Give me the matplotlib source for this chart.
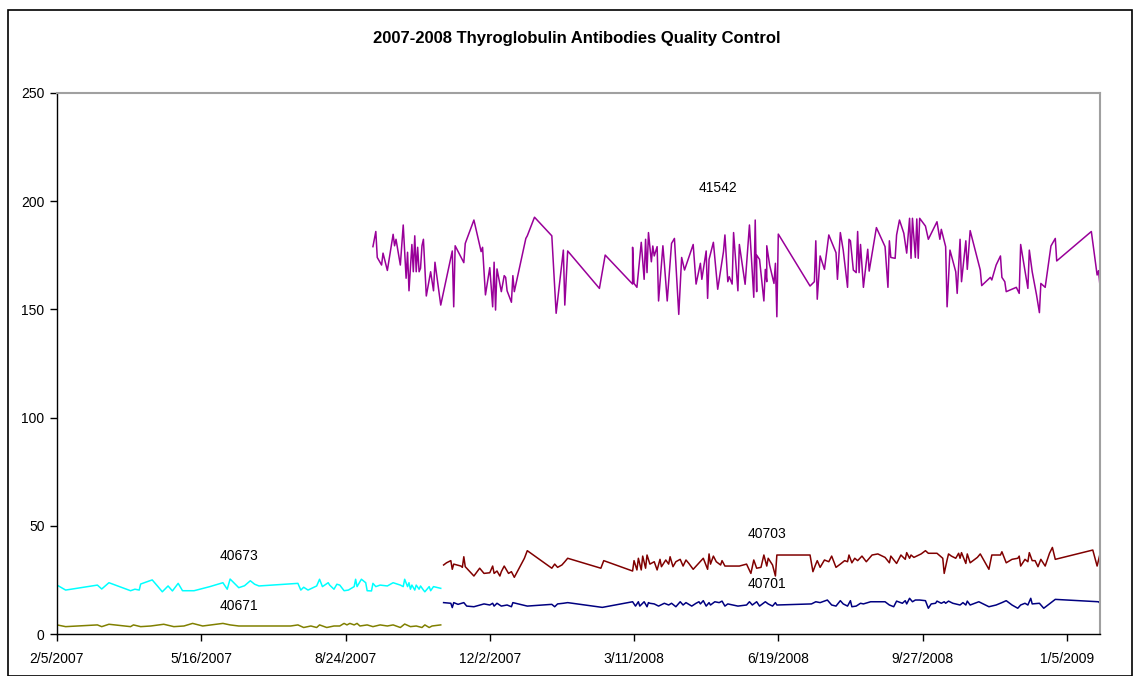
import datetime as dt
import matplotlib
matplotlib.use("Agg")
import matplotlib.pyplot as plt
from matplotlib.patches import Rectangle

plt.rcParams['font.family'] = ['Liberation Sans', 'DejaVu Sans']

START = dt.date(2007, 2, 5)
title = "2007-2008 Thyroglobulin Antibodies Quality Control"

# ---- data: day offsets from 2/5/2007 and values ----
s41542_days = [219, 221, 222, 225, 226, 229, 233, 234, 235, 238, 240, 242, 243, 244, 246, 247, 248, 249, 250, 251,
               252, 253, 254, 256, 259, 261, 262, 266, 269, 274, 275, 276, 282, 283, 289, 294, 295, 297, 300, 302,
               303, 304, 305, 308, 310, 311, 312, 315, 316, 317, 325, 326, 331, 343, 346, 351, 352, 354, 376, 380,
               399, 399, 400, 402, 405, 407, 408, 409, 410, 412, 413, 414, 416, 417, 420, 421, 423, 426, 428, 431,
               433, 435, 441, 443, 446, 447, 450, 451, 452, 455, 458, 462, 463, 465, 466, 468, 469, 472, 473, 477,
               480, 483, 484, 485, 485, 487, 490, 491, 492, 492, 494, 497, 498, 499, 500, 522, 525, 526, 527, 529,
               532, 535, 540, 541, 543, 545, 548, 549, 550, 552, 554, 555, 556, 557, 559, 562, 563, 568, 574, 576,
               577, 578, 581, 582, 584, 587, 589, 591, 592, 593, 595, 596, 597, 598, 602, 604, 610, 612, 613, 616,
               617, 619, 623, 624, 626, 627, 630, 631, 633, 640, 641, 647, 648, 651, 654, 655, 657, 658, 665, 667,
               668, 673, 674, 676, 679, 681, 682, 685, 689, 692, 693, 717, 721, 722, 723, 724]
s41542_vals = [179, 186, 174, 170.5, 176, 168, 184.7, 179.4, 182.4, 170.5, 189, 164.4, 176.4, 158.6, 180, 167.4, 184, 167.4, 178.7, 167.4,
               169, 179.4, 182.4, 156.2, 167.4, 158.6, 171.8, 152, 161.3, 177, 151.2, 179.4, 171.6, 180.5, 191.3, 176.7, 178.7, 156.7, 169.3, 151.2,
               171.8, 149.7, 168.7, 158.2, 165.6, 164.8, 158.6, 153.3, 165.6, 158.2, 182.8, 184, 192.6, 184, 148.2, 177.4, 152, 177, 159.7, 175.1,
               161.7, 178.7, 162, 160.2, 181, 163.9, 182.4, 167, 185.5, 172, 179.3, 174.7, 179, 153.9, 179.4, 171.3, 153.9, 180.5, 182.8, 147.7,
               174, 168.2, 180, 161.7, 171.3, 163.9, 177, 155.1, 173.1, 181, 159.3, 176.7, 184.4, 162.8, 165.1, 161.7, 185.5, 158.6, 180, 161.6,
               189, 155.6, 191.3, 158.2, 175.1, 173.1, 153.9, 168.5, 162.8, 179.4, 170.5, 162, 171.3, 146.6, 184.8, 160.8, 162.8, 181.7, 154.7, 174.7,
               168.5, 184.4, 176.2, 163.9, 185.5, 177.4, 160.2, 182.4, 181.7, 168.2, 167, 186, 167, 180, 160.2, 177.8, 167.7, 187.8, 179, 160.2,
               181.7, 174, 173.6, 184.4, 191.3, 185.2, 176, 192.1, 173.6, 192.1, 174, 191.8, 173.6, 192.1, 188.5, 182.4, 190.5, 182.4, 187, 179,
               151.2, 177.4, 167.4, 157.4, 182.4, 162.8, 181.7, 168.5, 186.4, 168.2, 161, 164.8, 163.6, 170.5, 174.7, 164.8, 162.8, 158.2, 160.2, 157.4,
               180, 159.7, 177.4, 167.4, 156.7, 148.5, 162, 160.2, 179.3, 182.8, 172.4, 186, 165.9, 167.9, 160.8, 187]

s40673_days = [0, 6, 28, 31, 36, 51, 54, 57, 58, 66, 70, 73, 77, 80, 84, 87, 95, 106, 115, 118,
               120, 126, 130, 134, 137, 140, 167, 169, 171, 174, 180, 182, 184, 188, 189, 192, 194, 196, 199, 202,
               206, 207, 208, 211, 214, 215, 218, 219, 221, 224, 229, 233, 238, 240, 241, 243, 244, 245, 246, 248,
               249, 251, 252, 254, 255, 258, 259, 261, 266]
s40673_vals = [22.6, 20.3, 22.6, 20.8, 23.7, 20, 20.7, 20.3, 23.1, 25, 21.9, 19.5, 22.2, 19.9, 23.4, 20, 20, 21.9, 23.7, 20.7,
               25.4, 21.4, 22.3, 24.6, 23, 22.2, 23.4, 20.3, 21.6, 20.3, 22.2, 25.3, 21.9, 23.7, 22.6, 20.7, 23, 22.6, 20, 20.3,
               21.9, 25.3, 21.9, 25.3, 23.7, 20, 19.9, 23.4, 21.9, 22.6, 22.2, 23.7, 22.6, 21.9, 25.3, 21.9, 23.7, 20.7, 22.6, 20.3,
               22.6, 20.7, 22.2, 20.3, 19.5, 21.9, 20, 21.9, 21.1]

s40671_days = [0, 6, 28, 31, 36, 51, 53, 58, 65, 74, 81, 88, 94, 101, 115, 120, 126, 133, 162, 167,
               171, 176, 180, 182, 187, 192, 196, 199, 201, 203, 206, 208, 210, 215, 219, 224, 229, 233, 238, 241,
               245, 249, 253, 255, 258, 260, 266]
s40671_vals = [4.2, 3.4, 4.2, 3.4, 4.5, 3.4, 4.2, 3.4, 3.7, 4.5, 3.4, 3.7, 4.9, 3.7, 4.9, 4.2, 3.7, 3.7, 3.7, 4.2,
               3, 3.7, 3, 4.2, 3, 3.7, 3.7, 4.9, 4.2, 4.9, 4.2, 4.9, 3.7, 4.2, 3.4, 4.2, 3.7, 4.2, 3, 4.6,
               3.4, 3.7, 3, 4.2, 3, 3.7, 4.2]

s40703_days = [268, 270, 273, 274, 275, 280, 281, 282, 283, 289, 293, 296, 300, 302, 303, 305, 307, 308, 310, 313,
               315, 317, 324, 326, 343, 345, 347, 350, 352, 354, 377, 379, 399, 400, 402, 403, 405, 406, 408, 409,
               411, 414, 416, 418, 419, 422, 424, 425, 427, 429, 432, 434, 436, 438, 441, 448, 451, 452, 453, 455,
               457, 460, 461, 463, 473, 478, 481, 483, 485, 488, 490, 492, 493, 496, 498, 499, 522, 524, 526, 527,
               529, 532, 535, 537, 540, 543, 546, 548, 549, 551, 553, 555, 558, 561, 565, 569, 574, 577, 578, 582,
               585, 588, 589, 591, 592, 594, 599, 602, 604, 610, 614, 615, 617, 618, 620, 623, 625, 626, 627, 630,
               631, 633, 638, 640, 646, 648, 654, 655, 658, 662, 666, 667, 668, 671, 673, 674, 676, 678, 680, 682,
               685, 688, 690, 692, 718, 721, 723, 724]
s40703_vals = [31.9, 32.9, 33.9, 29.9, 32.3, 31.4, 30.8, 35.7, 31.1, 26.8, 30.4, 28, 28.3, 31.4, 28, 29.1, 26.8, 28.8, 31.4, 28,
               28.8, 26.2, 35, 38.5, 30.4, 32.3, 30.8, 31.9, 33.4, 35, 30.4, 33.9, 29.1, 33.9, 29.6, 35, 29.6, 36, 30.4, 36.5,
               32.3, 33.4, 29.6, 34.5, 31.1, 34.2, 32.3, 35.7, 31.1, 33.4, 34.5, 31.4, 34.2, 32.6, 29.9, 35, 29.9, 37, 32.3, 36,
               33.4, 31.9, 33.9, 31.4, 31.4, 32.3, 28, 34.2, 30.4, 30.8, 36.5, 31.4, 35, 31.9, 26.8, 36.5, 36.5, 28.8, 32.3, 33.9,
               30.8, 34.2, 33.4, 36, 30.8, 32.3, 33.9, 33.4, 36.5, 32.9, 35, 33.9, 36, 33.4, 36.5, 37, 35.4, 32.9, 36, 32.6,
               36.5, 34.5, 37.6, 35, 36.5, 35.4, 37, 38.5, 37.3, 37.3, 35, 28, 34.2, 37, 36, 35, 37.3, 35, 37.6, 32.6,
               37, 32.9, 35.4, 37, 29.9, 36.5, 36.5, 38, 32.9, 34.5, 35, 36, 31.4, 34.5, 33.4, 37.6, 33.9, 33.9, 31.1, 34.5,
               31.4, 37.3, 40, 34.5, 38.8, 31.4, 37, 37]

s40701_days = [268, 273, 274, 275, 278, 282, 284, 289, 296, 300, 302, 303, 305, 308, 312, 315, 316, 326, 343, 345,
               347, 351, 354, 378, 399, 401, 403, 404, 407, 409, 410, 411, 414, 417, 421, 424, 426, 429, 432, 434,
               436, 440, 443, 445, 446, 448, 450, 452, 453, 456, 459, 461, 463, 465, 472, 478, 480, 482, 485, 487,
               491, 493, 496, 498, 499, 523, 526, 529, 534, 537, 540, 543, 545, 548, 550, 551, 554, 557, 559, 564,
               574, 577, 580, 582, 586, 588, 589, 591, 593, 595, 598, 602, 604, 606, 609, 610, 613, 615, 616, 618,
               621, 626, 628, 630, 631, 633, 639, 646, 651, 655, 658, 662, 666, 668, 671, 673, 675, 676, 681, 684,
               692, 722, 724]
s40701_vals = [14.5, 14.2, 12.2, 14.5, 13.7, 14.5, 12.9, 12.6, 13.9, 13.4, 14.2, 12.9, 14.2, 12.9, 13.4, 12.6, 14.5, 12.9, 13.7, 12.6,
               13.9, 14.2, 14.5, 12.3, 14.9, 12.9, 14.9, 12.9, 14.9, 12.6, 14.5, 14.2, 13.9, 12.9, 14.2, 13.4, 14.2, 12.6, 14.9, 13.4,
               14.5, 12.9, 14.2, 14.9, 13.9, 15.4, 12.9, 14.5, 13.4, 14.9, 14.5, 15.2, 12.9, 13.9, 12.9, 13.4, 14.9, 13.4, 14.9, 12.9,
               14.9, 13.9, 12.9, 14.5, 13.4, 13.9, 14.9, 14.5, 15.7, 13.4, 12.9, 15.4, 13.9, 12.9, 15.4, 12.6, 12.9, 14.2, 13.9, 14.9,
               14.9, 13.4, 12.6, 15.2, 14.2, 15.4, 13.9, 16.5, 14.9, 15.7, 15.7, 15.4, 11.9, 13.9, 14.2, 15.2, 14.2, 14.9, 14.2, 15.2,
               14.2, 13.4, 14.5, 13.4, 15.2, 13.4, 14.9, 12.6, 13.4, 14.5, 15.4, 13.4, 11.9, 13.4, 14.2, 13.4, 16.5, 13.9, 14.2, 11.9,
               16, 14.9, 13.4]

series_names = ["41542", "40673", "40671", "40703", "40701"]
series_colors = ["#990099", "#00FFFF", "#808000", "#800000", "#000080"]

tick_labels = ["2/5/2007", "5/16/2007", "8/24/2007", "12/2/2007", "3/11/2008", "6/19/2008", "9/27/2008", "1/5/2009"]
y_ticks = [0, 50, 100, 150, 200, 250]


def to_dates(days):
    return [START + dt.timedelta(days=d) for d in days]


fig = plt.figure(figsize=(11.33, 6.76), dpi=100)
ax = fig.add_axes([57 / 1133, 1 - 634 / 676, (1100 - 57) / 1133, (634 - 93) / 676])

all_days = [s41542_days, s40673_days, s40671_days, s40703_days, s40701_days]
all_vals = [s41542_vals, s40673_vals, s40671_vals, s40703_vals, s40701_vals]
for days, vals, c, name in zip(all_days, all_vals, series_colors, series_names):
    ax.plot(to_dates(days), vals, color=c, lw=1.1, label=name)

ax.set_ylim(0, 250)
ax.set_yticks(y_ticks)
ax.set_xlim(START, START + dt.timedelta(days=723.6))
tick_dates = [dt.datetime.strptime(t, "%m/%d/%Y").date() for t in tick_labels]
ax.set_xticks(tick_dates)
ax.set_xticklabels(tick_labels)

ax.tick_params(axis='both', direction='out', length=5, width=1, labelsize=10, colors='black', pad=8)
ax.tick_params(axis='y', pad=4)
for s in ['left', 'bottom']:
    ax.spines[s].set_color('black')
    ax.spines[s].set_linewidth(1)
for s in ['top', 'right']:
    ax.spines[s].set_color('#a0a0a0')
    ax.spines[s].set_linewidth(1.5)

# series labels (day offset, value)
label_pos = {"41542": (458, 206), "40673": (126, 36), "40671": (126, 13), "40703": (492, 46), "40701": (492, 23)}
for name in series_names:
    d, v = label_pos[name]
    ax.text(START + dt.timedelta(days=d), v, name, ha='center', va='center', fontsize=10)

fig.text(577 / 1133, 1 - 38 / 676, title, ha='center', va='center', fontsize=12, fontweight='bold')

# outer chart border
fig.patches.append(Rectangle((8 / 1133, 0), 1 - 8 / 1133 - 1 / 1133, 1 - 10 / 676, transform=fig.transFigure,
                             fill=False, edgecolor='black', lw=1.2))

fig.savefig("out.png", dpi=100)
